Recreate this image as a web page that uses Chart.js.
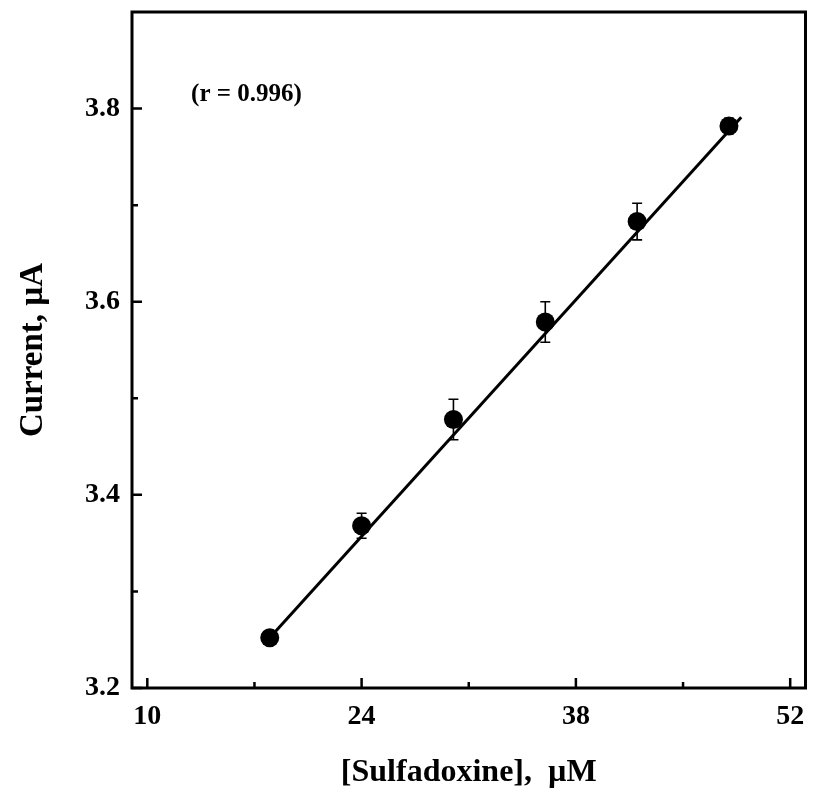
<!DOCTYPE html>
<html>
<head>
<meta charset="utf-8">
<script src="https://cdn.jsdelivr.net/npm/chart.js@4.4.1/dist/chart.umd.min.js"></script>
<style>
  body { margin: 0; background: #fff; }
</style>
</head>
<body>
<canvas id="myChart" width="815" height="803"></canvas>
<script>
// values
const conc = [18, 24, 30, 36, 42, 48];           // [Sulfadoxine], uM
const current = [3.252, 3.368, 3.478, 3.579, 3.683, 3.782]; // uA
const errs = [0.004, 0.013, 0.021, 0.021, 0.019, 0.008];
const fitX = [18, 48.8];
const fitY = [3.252, 3.791];
const xTicks = [10, 17, 24, 31, 38, 45, 52];
const xLabels = [10, 24, 38, 52];
const yTicks = [3.2, 3.3, 3.4, 3.5, 3.6, 3.7, 3.8];
const yLabels = [3.2, 3.4, 3.6, 3.8];
const note = '(r = 0.996)';

const serif = 'Liberation Serif, Times New Roman, serif';

// frame, inward ticks, error bars and the r note
const decor = {
  id: 'decor',
  beforeDatasetsDraw(chart) {
    const { ctx, scales: { x, y } } = chart;
    ctx.save();
    ctx.strokeStyle = '#000';
    ctx.lineWidth = 1.6;
    conc.forEach((c, i) => {
      const px = x.getPixelForValue(c);
      const top = y.getPixelForValue(current[i] + errs[i]);
      const bot = y.getPixelForValue(current[i] - errs[i]);
      ctx.beginPath();
      ctx.moveTo(px, top); ctx.lineTo(px, bot);
      ctx.moveTo(px - 5, top); ctx.lineTo(px + 5, top);
      ctx.moveTo(px - 5, bot); ctx.lineTo(px + 5, bot);
      ctx.stroke();
    });
    ctx.restore();
  },
  afterDraw(chart) {
    const { ctx, chartArea: a, scales: { x, y } } = chart;
    ctx.save();
    ctx.strokeStyle = '#000';
    ctx.lineWidth = 3;
    ctx.strokeRect(a.left, a.top, a.right - a.left, a.bottom - a.top);
    ctx.lineWidth = 2.5;
    ctx.beginPath();
    xTicks.forEach(v => {
      const px = x.getPixelForValue(v);
      const len = xLabels.includes(v) ? 10 : 6;
      ctx.moveTo(px, a.bottom); ctx.lineTo(px, a.bottom - len);
    });
    yTicks.forEach(v => {
      const py = y.getPixelForValue(v);
      const len = yLabels.includes(v) ? 10 : 6;
      ctx.moveTo(a.left, py); ctx.lineTo(a.left + len, py);
    });
    ctx.stroke();

    ctx.fillStyle = '#000';
    ctx.font = 'bold 25px ' + serif;
    ctx.textAlign = 'left';
    ctx.textBaseline = 'middle';
    ctx.fillText(note, x.getPixelForValue(12.86), y.getPixelForValue(3.815));
    ctx.restore();
  }
};

const data = {
  datasets: [
    {
      label: 'fit',
      data: fitX.map((v, i) => ({ x: v, y: fitY[i] })),
      showLine: true,
      borderColor: '#000',
      borderWidth: 3,
      pointRadius: 0
    },
    {
      label: 'measured',
      data: conc.map((v, i) => ({ x: v, y: current[i] })),
      showLine: false,
      pointRadius: 9.5,
      pointBackgroundColor: '#000',
      pointBorderColor: '#000',
      pointBorderWidth: 0
    }
  ]
};

const config = {
  type: 'scatter',
  data: data,
  options: {
    responsive: false,
    animation: false,
    layout: { padding: { top: 12, right: 6, left: 0, bottom: 0 } },
    plugins: {
      legend: { display: false },
      tooltip: { enabled: false }
    },
    scales: {
      x: {
        type: 'linear',
        min: 9,
        max: 53,
        afterBuildTicks: s => { s.ticks = xTicks.map(v => ({ value: v })); },
        afterFit: s => { s.height = 115; s.paddingLeft = 0; s.paddingRight = 0; },
        grid: { display: false, drawTicks: false },
        border: { display: false },
        ticks: {
          color: '#000',
          padding: 12,
          maxRotation: 0,
          autoSkip: false,
          font: { family: serif, size: 28, weight: 'bold' },
          callback: v => xLabels.includes(v) ? String(v) : ''
        },
        title: {
          display: true,
          text: '[Sulfadoxine],  µM',
          color: '#000',
          padding: { top: 0, bottom: 11 },
          font: { family: serif, size: 32, weight: 'bold' }
        }
      },
      y: {
        type: 'linear',
        min: 3.2,
        max: 3.9,
        afterBuildTicks: s => { s.ticks = yTicks.map(v => ({ value: v })); },
        afterFit: s => { s.width = 132; s.paddingTop = 0; s.paddingBottom = 0; },
        grid: { display: false, drawTicks: false },
        border: { display: false },
        ticks: {
          color: '#000',
          padding: 12,
          autoSkip: false,
          font: { family: serif, size: 28, weight: 'bold' },
          callback: v => yLabels.some(t => Math.abs(t - v) < 1e-6) ? v.toFixed(1) : ''
        },
        title: {
          display: true,
          text: 'Current, µA',
          color: '#000',
          padding: { top: 14, bottom: 0 },
          font: { family: serif, size: 33, weight: 'bold' }
        }
      }
    }
  },
  plugins: [decor]
};

const ctx = document.getElementById('myChart');
new Chart(ctx, config);
</script>
</body>
</html>
